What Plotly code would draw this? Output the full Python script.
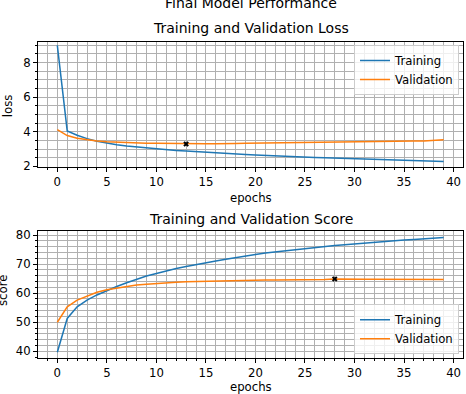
import plotly.graph_objects as go

epochs = list(range(40))

train_loss = [9.0, 4.05, 3.8, 3.6, 3.45, 3.34, 3.25, 3.18, 3.12, 3.07,
              3.02, 2.97, 2.92, 2.88, 2.84, 2.80, 2.77, 2.74, 2.71, 2.68,
              2.65, 2.62, 2.60, 2.57, 2.55, 2.53, 2.51, 2.49, 2.47, 2.45,
              2.43, 2.42, 2.40, 2.38, 2.36, 2.34, 2.33, 2.31, 2.30, 2.28]
val_loss = [4.12, 3.78, 3.62, 3.53, 3.47, 3.42, 3.39, 3.37, 3.35, 3.34,
            3.33, 3.32, 3.31, 3.29, 3.30, 3.31, 3.31, 3.30, 3.32, 3.33,
            3.34, 3.35, 3.35, 3.36, 3.37, 3.37, 3.38, 3.39, 3.40, 3.41,
            3.42, 3.43, 3.43, 3.44, 3.46, 3.47, 3.46, 3.46, 3.49, 3.53]

train_score = [39.7, 51.3, 55.3, 57.6, 59.4, 60.9, 62.3, 63.6, 64.8, 65.9,
               66.8, 67.7, 68.5, 69.2, 69.9, 70.5, 71.1, 71.7, 72.3, 72.8,
               73.3, 73.8, 74.2, 74.6, 75.0, 75.4, 75.8, 76.1, 76.4, 76.7,
               77.0, 77.3, 77.6, 77.9, 78.1, 78.3, 78.5, 78.7, 78.9, 79.2]
val_score = [50.0, 55.3, 57.6, 59.0, 60.3, 61.2, 61.8, 62.3, 62.8, 63.1,
             63.4, 63.6, 63.8, 63.9, 64.0, 64.1, 64.2, 64.3, 64.3, 64.4,
             64.4, 64.5, 64.5, 64.5, 64.6, 64.6, 64.7, 64.7, 64.9, 64.8,
             64.8, 64.8, 64.8, 64.8, 64.7, 64.7, 64.7, 64.7, 64.7, 64.7]

BLUE = "#1f77b4"
ORANGE = "#ff7f0e"
GRID = "#b0b0b0"
FONT = "DejaVu Sans"

best_loss_ep = val_loss.index(min(val_loss))
best_score_ep = val_score.index(max(val_score))

fig = go.Figure()

# loss panel
fig.add_trace(go.Scatter(x=epochs, y=train_loss, mode="lines", name="Training",
                         line=dict(color=BLUE, width=1.5), xaxis="x", yaxis="y", legend="legend"))
fig.add_trace(go.Scatter(x=epochs, y=val_loss, mode="lines", name="Validation",
                         line=dict(color=ORANGE, width=1.5), xaxis="x", yaxis="y", legend="legend"))
fig.add_trace(go.Scatter(x=[epochs[best_loss_ep]], y=[val_loss[best_loss_ep]], mode="markers",
                         marker=dict(symbol="x", size=5, color="black"), showlegend=False,
                         xaxis="x", yaxis="y"))

# score panel
fig.add_trace(go.Scatter(x=epochs, y=train_score, mode="lines", name="Training",
                         line=dict(color=BLUE, width=1.5), xaxis="x2", yaxis="y2", legend="legend2"))
fig.add_trace(go.Scatter(x=epochs, y=val_score, mode="lines", name="Validation",
                         line=dict(color=ORANGE, width=1.5), xaxis="x2", yaxis="y2", legend="legend2"))
fig.add_trace(go.Scatter(x=[epochs[best_score_ep]], y=[val_score[best_score_ep]], mode="markers",
                         marker=dict(symbol="x", size=5, color="black"), showlegend=False,
                         xaxis="x2", yaxis="y2"))

def xax(anchor):
    return dict(domain=[0, 1], anchor=anchor, range=[-1.95, 40.95], dtick=5, tick0=0,
                automargin=False,
                showgrid=True, gridcolor=GRID, gridwidth=1, zeroline=False,
                showline=True, linecolor="black", linewidth=1, mirror=True,
                ticks="outside", ticklen=4, tickcolor="black",
                minor=dict(dtick=1, tick0=0, showgrid=True, gridcolor=GRID, gridwidth=1,
                           ticks="outside", ticklen=2, tickcolor="black"),
                tickfont=dict(size=11.7, color="black"))

def yax(anchor, dom, rng, dt, mdt):
    return dict(domain=dom, anchor=anchor, range=rng, dtick=dt, tick0=0,
                automargin=False,
                showgrid=True, gridcolor=GRID, gridwidth=1, zeroline=False,
                showline=True, linecolor="black", linewidth=1, mirror=True,
                ticks="outside", ticklen=4, tickcolor="black",
                minor=dict(dtick=mdt, tick0=0, showgrid=True, gridcolor=GRID, gridwidth=1,
                           ticks="outside", ticklen=2, tickcolor="black"),
                tickfont=dict(size=11.7, color="black"))

legend_style = dict(bgcolor="rgba(255,255,255,0.8)", bordercolor="#cccccc", borderwidth=1,
                    font=dict(family=FONT, size=11.7, color="black"), xanchor="right",
                    tracegroupgap=0, itemwidth=30)

def label(text, x, y, size, angle=0):
    return dict(text=text, x=x, y=y, xref="paper", yref="paper", xanchor="center",
                yanchor="middle", textangle=angle, showarrow=False, font=dict(size=size))

fig.update_layout(
    width=466, height=394,
    margin=dict(l=38, r=3, t=42, b=36, autoexpand=False),
    paper_bgcolor="white", plot_bgcolor="white",
    font=dict(family=FONT, color="black"),
    xaxis=xax("y"),
    yaxis=yax("x", [0.6044, 1.0], [1.96, 9.19], 2, 0.5),
    xaxis2=xax("y2"),
    yaxis2=yax("x2", [0.0, 0.4019], [37.7, 81.4], 10, 2),
    legend=dict(x=0.9906, y=0.9905, yanchor="top", **legend_style),
    legend2=dict(x=0.9906, y=0.0117, yanchor="bottom", **legend_style),
    annotations=[
        label("Final Model Performance", 0.5, 1.1234, 14),
        label("Training and Validation Loss", 0.5, 1.0434, 14),
        label("epochs", 0.5, 0.5054, 11.7),
        label("Training and Validation Score", 0.5, 0.4389, 14),
        label("epochs", 0.5, -0.0928, 11.7),
        label("loss", -0.0706, 0.8, 11.7, -90),
        label("score", -0.0824, 0.2152, 11.7, -90),
    ],
)

fig.write_html("out.html", config={"displayModeBar": False},
               post_script="document.body.style.margin='0';document.body.style.overflow='hidden';")
